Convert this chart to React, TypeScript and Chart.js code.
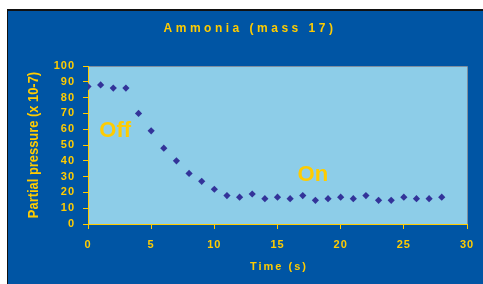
import { useEffect, useRef } from 'react';
import { Chart, registerables } from 'chart.js';

Chart.register(...registerables);

const timeSeconds = [0, 1, 2, 3, 4, 5, 6, 7, 8, 9, 10, 11, 12, 13, 14, 15, 16, 17, 18, 19, 20, 21, 22, 23, 24, 25, 26, 27, 28];
const pressure = [87, 88, 86, 86, 70, 59, 48, 40, 32, 27, 22, 18, 17, 19, 16, 17, 16, 18, 15, 16, 17, 16, 18, 15, 15, 17, 16, 16, 17];

const chartTitle = 'Ammonia (mass 17)';
const xTitle = 'Time (s)';
const yTitle = 'Partial pressure (x 10-7)';

const noteLabels = ['Off', 'On'];
const noteX = [2.15, 17.8];
const noteY = [59, 31];

const YELLOW = '#FFCC00';
const OUTER_BLUE = '#0055A4';
const PLOT_BG = '#8DCDE8';
const MARKER = '#333399';
const FONT = 'Arial, "Liberation Sans", sans-serif';

const framePlugin = {
  id: 'frame',
  beforeDraw(chart: any) {
    const { ctx, width, height, chartArea } = chart;
    ctx.save();
    ctx.fillStyle = '#ffffff';
    ctx.fillRect(0, 0, width, height);
    ctx.fillStyle = '#111111';
    ctx.fillRect(7, 9, width - 7, height - 9);
    ctx.fillStyle = OUTER_BLUE;
    ctx.fillRect(8, 11, width - 8, height - 11);
    ctx.fillStyle = PLOT_BG;
    ctx.fillRect(chartArea.left, chartArea.top, chartArea.right - chartArea.left, chartArea.bottom - chartArea.top);
    ctx.strokeStyle = '#7f8f9f';
    ctx.lineWidth = 1;
    ctx.beginPath();
    ctx.moveTo(chartArea.left, chartArea.top + 0.5);
    ctx.lineTo(chartArea.right + 0.5, chartArea.top + 0.5);
    ctx.lineTo(chartArea.right + 0.5, chartArea.bottom);
    ctx.stroke();
    ctx.restore();
    (ctx as any).letterSpacing = '1px';
  },
  beforeDatasetsDraw(chart: any) {
    (chart.ctx as any).letterSpacing = '0px';
  },
  afterDraw(chart: any) {
    const { ctx, scales } = chart;
    ctx.save();
    ctx.fillStyle = YELLOW;
    ctx.textBaseline = 'middle';
    ctx.textAlign = 'center';

    (ctx as any).letterSpacing = '3.5px';
    ctx.font = `bold 12px ${FONT}`;
    ctx.fillText(chartTitle, 250, 29);

    (ctx as any).letterSpacing = '2px';
    ctx.font = `bold 11px ${FONT}`;
    ctx.fillText(xTitle, 279, 267);

    (ctx as any).letterSpacing = '0px';
    ctx.save();
    ctx.translate(34, 145);
    ctx.rotate(-Math.PI / 2);
    ctx.scale(0.86, 1);
    ctx.font = `bold 15px ${FONT}`;
    ctx.fillText(yTitle, 0, 0);
    ctx.restore();

    ctx.font = `bold 22px ${FONT}`;
    noteLabels.forEach((t, i) => {
      ctx.fillText(t, scales.x.getPixelForValue(noteX[i]), scales.y.getPixelForValue(noteY[i]));
    });
    ctx.restore();
  },
};

export default function App() {
  const ref = useRef<HTMLCanvasElement>(null);
  useEffect(() => {
    document.body.style.margin = '0';
    const canvas = ref.current!;
    const chart = new Chart(canvas, {
      type: 'scatter',
      data: {
        datasets: [
          {
            data: timeSeconds.map((t, i) => ({ x: t, y: pressure[i] })),
            pointStyle: 'rectRot',
            pointRadius: 3.6,
            backgroundColor: MARKER,
            borderColor: MARKER,
            borderWidth: 0,
            showLine: false,
          },
        ],
      },
      options: {
        responsive: false,
        animation: false,
        devicePixelRatio: 1,
        layout: { padding: { left: 0, right: 16, top: 66, bottom: 0 } },
        plugins: { legend: { display: false }, tooltip: { enabled: false }, title: { display: false } },
        scales: {
          x: {
            type: 'linear',
            min: 0,
            max: 30,
            afterFit: (s: any) => { s.height = 60; },
            ticks: { stepSize: 5, autoSkip: false, color: YELLOW, font: { family: FONT, size: 11, weight: 'bold' }, padding: 9 },
            grid: { drawOnChartArea: false, drawTicks: true, tickLength: 5, color: YELLOW },
            border: { display: true, color: YELLOW, width: 1 },
          },
          y: {
            type: 'linear',
            min: 0,
            max: 100,
            afterFit: (s: any) => { s.width = 88; },
            ticks: { stepSize: 10, autoSkip: false, color: YELLOW, font: { family: FONT, size: 11, weight: 'bold' }, padding: 8 },
            grid: { drawOnChartArea: false, drawTicks: true, tickLength: 5, color: YELLOW },
            border: { display: true, color: YELLOW, width: 1 },
          },
        },
      },
      plugins: [framePlugin],
    });
    return () => chart.destroy();
  }, []);
  return (
    <div style={{ width: 483, height: 284 }}>
      <canvas ref={ref} width={483} height={284} style={{ display: 'block' }} />
    </div>
  );
}
